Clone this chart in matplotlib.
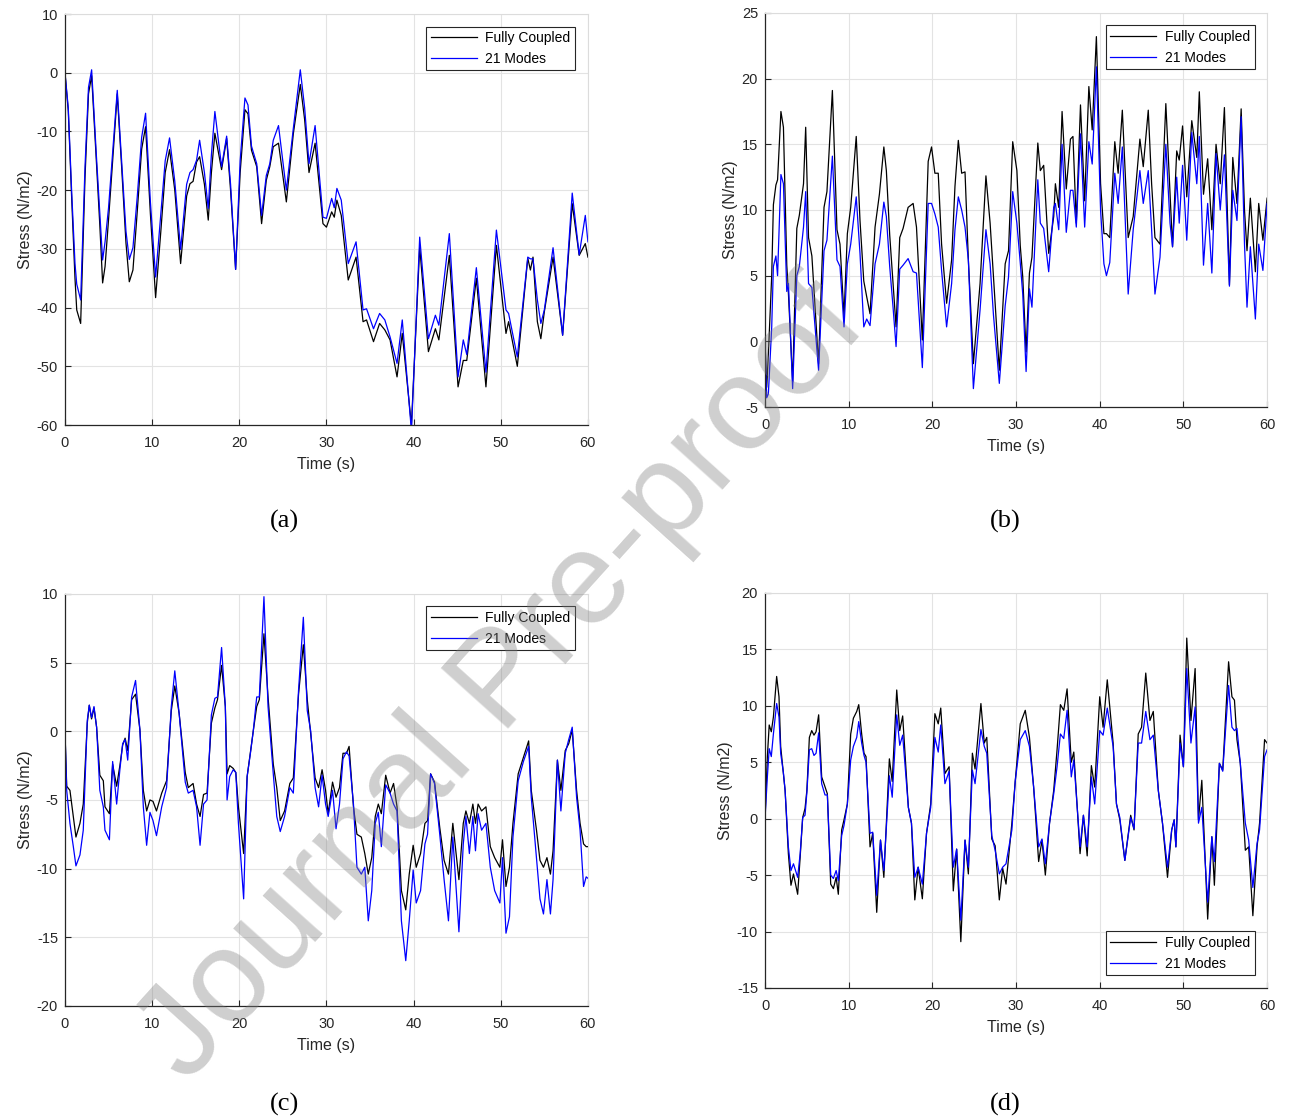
import matplotlib
matplotlib.use("Agg")
import matplotlib.pyplot as plt

plt.rcParams["font.family"] = ["Liberation Sans", "DejaVu Sans"]
plt.rcParams["axes.unicode_minus"] = False

# (a) values
t_a = [0, 0.38, 0.76, 1.15, 1.35, 1.8, 2.3, 2.7, 3.06, 3.6,
       4.0, 4.32, 4.6, 5.0, 5.4, 6.0, 6.5, 7.0, 7.38, 7.8,
       8.3, 8.8, 9.25, 9.8, 10.4, 11.0, 11.5, 12.0, 12.6, 13.27,
       13.96, 14.34, 14.7, 15.1, 15.45, 16.0, 16.44, 16.8, 17.2, 17.97,
       18.55, 19.0, 19.58, 20.1, 20.65, 21.0, 21.4, 22.0, 22.56, 23.1,
       23.5, 23.9, 24.5, 25.4, 26.2, 27.0, 27.5, 28.0, 28.7, 29.6,
       30.0, 30.6, 30.9, 31.2, 31.7, 32.5, 33.4, 34.2, 34.6, 35.4,
       36.1, 36.7, 37.3, 38.1, 38.7, 39.75, 40.7, 41.7, 42.5, 42.9,
       44.1, 45.1, 45.7, 46.1, 47.2, 48.3, 49.5, 50.6, 50.9, 51.9,
       53.1, 53.4, 53.7, 54.2, 54.6, 55.0, 56.0, 57.1, 58.2, 59.0,
       59.7, 60.0]
fc_a = [0, -6.5, -21, -35, -40.4, -42.7, -17.8, -3.6, -0.5, -15,
        -26, -35.8, -33, -25, -16.5, -3.6, -16, -29, -35.6, -33.6,
        -23.5, -13, -9.2, -24, -38.3, -27, -17, -13.1, -20, -32.5,
        -21, -18.9, -18.5, -15.2, -14.3, -19, -25.1, -17, -10.3, -16.5,
        -11.2, -20, -33.5, -17, -6.3, -7, -13.2, -16, -25.7, -18.3,
        -16, -12.6, -12, -22, -10.4, -2.0, -8, -17, -12, -25.7,
        -26.3, -23.7, -24.6, -21.7, -24.3, -35.3, -31.4, -42.4, -42.1, -45.8,
        -42.7, -43.8, -45.5, -51.8, -44.4, -60, -29.7, -47.5, -43.6, -45.5,
        -31.1, -53.5, -49, -49, -35, -53.5, -29.4, -44.4, -42.4, -50,
        -31.6, -33.6, -31.4, -42.4, -45.3, -40.7, -31.4, -44.7, -22.3, -31.1,
        -29.1, -31.4]
m21_a = [0, -6, -20, -32.5, -36, -38.7, -16, -2.5, 0.5, -14,
         -24, -31.9, -28.8, -23, -15, -3.0, -15, -27, -31.8, -29.8,
         -21, -11, -6.9, -22, -34.8, -24, -15, -11.1, -18.5, -30.1,
         -19, -17, -16.5, -14.9, -11.5, -17, -23.1, -14, -6.6, -16,
         -10.8, -19, -33.5, -15, -4.3, -5.5, -12.5, -15.5, -24.3, -17.5,
         -15.5, -11.5, -9.0, -20, -9.5, 0.5, -6, -15.5, -9, -24.6,
         -24.8, -21.4, -23, -19.7, -21.7, -32.5, -28.8, -40.4, -40.2, -43.6,
         -41, -42.1, -45, -49.5, -42.1, -61, -28, -45.3, -41.3, -43,
         -27.4, -51.8, -45.5, -48, -33.2, -51, -26.8, -40.4, -41, -48.4,
         -31.4, -31.7, -31.7, -38.7, -42.7, -40.4, -29.8, -44.7, -20.5, -31,
         -24.3, -28.8]

# (b)
t_b = [0, 0.2, 0.4, 0.8, 1.0, 1.3, 1.5, 1.9, 2.2, 2.6,
       2.8, 3.3, 3.8, 4.1, 4.6, 4.86, 5.2, 5.6, 6.4, 7.05,
       7.4, 8.05, 8.6, 8.96, 9.44, 9.84, 10.24, 10.9, 11.35, 11.8,
       12.15, 12.55, 13.15, 13.67, 14.2, 14.5, 14.9, 15.3, 15.66, 16.1,
       16.5, 17.1, 17.7, 18.1, 18.8, 19.5, 19.9, 20.3, 20.7, 21.1,
       21.7, 22.3, 22.7, 23.1, 23.5, 23.9, 24.3, 24.9, 25.7, 26.4,
       26.9, 27.3, 28.0, 28.7, 29.1, 29.6, 30.1, 30.5, 30.8, 31.2,
       31.6, 31.9, 32.6, 32.9, 33.3, 33.9, 34.5, 34.7, 35.1, 35.5,
       36.0, 36.5, 36.8, 37.2, 37.7, 38.2, 38.7, 39.1, 39.6, 40.1,
       40.5, 40.8, 41.2, 41.8, 42.2, 42.7, 43.4, 44.0, 44.8, 45.2,
       45.8, 46.2, 46.6, 47.2, 47.9, 48.4, 48.7, 49.2, 49.5, 49.9,
       50.4, 51.0, 51.6, 51.9, 52.4, 52.9, 53.4, 53.9, 54.4, 54.9,
       55.5, 55.9, 56.4, 56.9, 57.3, 57.6, 58.0, 58.6, 59.0, 59.5,
       60.0]
fc_b = [0, -3.5, -1, 5.0, 10.4, 11.9, 12.3, 17.5, 16.3, 5.8,
        3.6, -3.1, 8.6, 9.6, 12, 16.3, 7.9, 6.5, -1.7, 10.2,
        11.4, 19.1, 8.5, 7.4, 1.9, 8.2, 10.2, 15.6, 9.2, 4.6,
        3.4, 2.1, 8.7, 11.2, 14.8, 13, 8.1, 4.4, 1.1, 7.9,
        8.6, 10.2, 10.5, 8.7, 0.1, 13.7, 14.8, 12.8, 12.8, 7.4,
        2.9, 6.2, 11.8, 15.3, 12.8, 12.9, 6.2, -1.7, 4.4, 12.6,
        9, 4.9, -2.2, 5.9, 6.9, 15.2, 13, 7.3, 4.9, -0.8,
        5.2, 6.4, 15.1, 13, 13.4, 6.7, 9.5, 12, 10.2, 17.5,
        11.6, 15.4, 15.6, 9, 18, 10.7, 19.4, 16.1, 23.2, 12,
        8.2, 8.2, 7.9, 15.2, 12.8, 17.6, 7.9, 9.5, 15.4, 13.3,
        17.6, 12, 7.9, 7.4, 18.1, 11.2, 7.2, 14.5, 13.8, 16.4,
        11, 16.8, 14, 19, 11.2, 13.9, 8.5, 15, 12, 17.8,
        4.3, 14, 10.5, 17.7, 10, 6.9, 10.9, 5.3, 10.5, 7.7,
        10.9]
m21_b = [0, -4.3, -4, 1.1, 5.7, 6.5, 5.0, 12.7, 12, 3.8,
         4.4, -3.6, 5.0, 5.7, 8.7, 11.4, 4.4, 4.1, -2.2, 6.9,
         7.7, 14.1, 6.2, 5.7, 1.1, 5.9, 7.4, 11, 6.7, 1.1,
         1.7, 1.2, 5.9, 7.4, 10.6, 9.5, 5.7, 2.6, -0.4, 5.5,
         5.8, 6.3, 5.3, 5.2, -2.0, 10.5, 10.5, 9.7, 8.7, 5.4,
         1.1, 4.4, 8.5, 11, 10, 8.7, 6.2, -3.6, 2.4, 8.5,
         5.9, 2.0, -3.2, 2.7, 4.9, 11.4, 9, 6, 3.6, -2.3,
         4, 2.6, 12.3, 9, 8.6, 5.3, 10.2, 10.5, 8.5, 15,
         8.3, 11.5, 11.5, 8.7, 15.8, 8.7, 15.2, 13.5, 20.9, 10,
         5.9, 5, 6, 12.8, 10.5, 14.8, 3.6, 8.5, 13, 10.5,
         13, 8.5, 3.6, 6.4, 15, 9, 7.2, 12.5, 9, 13.4,
         7.7, 15.9, 12, 15.6, 5.8, 10.5, 5.2, 14.3, 10, 14.2,
         4.2, 11.5, 9.2, 17.1, 7.4, 2.6, 7.2, 1.7, 7.4, 5.4,
         10.5]

# (c)
t_c = [0, 0.2, 0.57, 0.96, 1.26, 1.72, 2.1, 2.56, 2.79, 3.05,
       3.33, 3.63, 4.0, 4.4, 4.59, 5.1, 5.47, 5.93, 6.3, 6.62,
       6.9, 7.2, 7.65, 8.1, 8.6, 8.99, 9.37, 9.75, 10.1, 10.5,
       11.1, 11.66, 12.2, 12.6, 13.1, 13.8, 14.15, 14.7, 15.1, 15.5,
       15.9, 16.3, 16.8, 17.2, 17.5, 17.97, 18.4, 18.6, 18.9, 19.3,
       19.6, 19.9, 20.5, 20.9, 21.3, 21.6, 22.0, 22.3, 22.83, 23.3,
       23.9, 24.3, 24.7, 25.2, 25.8, 26.2, 26.8, 27.35, 27.8, 28.2,
       28.7, 29.1, 29.5, 29.9, 30.2, 30.7, 31.1, 31.5, 31.9, 32.3,
       32.6, 33.1, 33.5, 34.0, 34.4, 34.8, 35.2, 35.6, 35.95, 36.3,
       36.8, 37.3, 37.7, 38.1, 38.6, 39.1, 39.5, 39.95, 40.3, 40.8,
       41.3, 41.6, 41.95, 42.4, 43.0, 43.5, 44.0, 44.5, 45.2, 45.7,
       46.0, 46.4, 46.8, 47.1, 47.4, 47.8, 48.3, 48.8, 49.3, 49.9,
       50.2, 50.6, 51.0, 51.4, 52.0, 52.6, 53.2, 53.5, 54.1, 54.5,
       54.9, 55.3, 55.7, 56.0, 56.5, 56.9, 57.4, 57.8, 58.2, 58.7,
       59.1, 59.5, 59.8, 60.0]
fc_c = [0, -4, -4.3, -6.2, -7.7, -6.7, -5.3, 0.6, 1.9, 0.9,
        1.7, 0.3, -3.2, -3.6, -5.5, -6, -2.4, -4, -2.5, -1.0,
        -0.5, -1.4, 2.3, 2.7, 0.1, -4.3, -5.8, -5, -5.1, -5.8,
        -4.5, -3.6, 1.5, 3.3, 1.3, -3.0, -4.1, -3.8, -5.3, -6.2,
        -4.6, -4.5, 0.6, 1.7, 2.3, 4.8, 1.8, -3.1, -2.5, -2.7,
        -3.0, -5.5, -8.9, -3.3, -1.4, 0, 1.8, 2.3, 7.1, 2.5,
        -2.4, -4.1, -6.5, -5.8, -3.8, -3.4, 2.7, 6.3, 2.3, -0.2,
        -3.4, -4.1, -2.8, -4.3, -6.0, -3.7, -4.8, -4.1, -1.6, -1.6,
        -1.1, -5.5, -7.5, -7.7, -8.9, -10.4, -9.2, -6.2, -5.3, -6.0,
        -3.2, -4.5, -3.8, -5.5, -11.6, -13.0, -10.4, -8.3, -9.9, -8.9,
        -6.7, -6.5, -3.1, -3.7, -7.0, -9.4, -10.4, -6.7, -10.8, -6.7,
        -5.8, -6.7, -5.3, -6.7, -5.3, -5.8, -5.5, -8.4, -9.2, -9.9,
        -7.9, -11.3, -9.9, -6.7, -3.1, -1.9, -0.7, -4.3, -7.2, -9.4,
        -9.9, -9.2, -10.4, -8.7, -2.1, -4.3, -1.4, -0.9, 0.1, -4.3,
        -6.7, -8.2, -8.4, -8.4]
m21_c = [0, -4.3, -6.7, -8.4, -9.8, -9.0, -7.2, 0.8, 1.9, 1.0,
         1.8, 0.3, -4.3, -5.5, -7.2, -7.9, -2.2, -5.3, -2.8, -0.9,
         -0.6, -2.1, 2.5, 3.7, 0.1, -5.5, -8.3, -5.9, -6.5, -7.6,
         -5.5, -4.1, 1.8, 4.4, 1.3, -3.7, -4.5, -4.3, -5.5, -8.3,
         -5.3, -5.0, 1.2, 2.4, 2.5, 6.1, 1.8, -5.0, -3.3, -2.8,
         -3.0, -6.7, -12.2, -3.3, -1.5, 0, 2.5, 2.5, 9.8, 1.8,
         -3.1, -6.2, -7.3, -6.2, -4.1, -4.5, 3.0, 8.3, 1.5, 0,
         -4.1, -5.5, -3.2, -5.3, -6.2, -4.3, -7.1, -5.3, -2.0, -1.5,
         -1.8, -5.3, -9.9, -10.4, -9.9, -13.8, -11.6, -6.7, -5.9, -8.4,
         -3.9, -4.5, -5.3, -5.8, -13.8, -16.7, -13.8, -10.1, -12.5, -11.6,
         -8.2, -7.5, -3.1, -3.8, -7.5, -10.8, -13.8, -7.7, -14.6, -8.2,
         -6.2, -8.9, -6.2, -8.7, -6.0, -7.2, -6.7, -9.9, -11.6, -12.5,
         -9.2, -14.7, -13.5, -7.7, -3.6, -2.2, -1.1, -4.8, -9.2, -12.2,
         -13.3, -10.8, -13.3, -10.8, -2.1, -5.8, -1.6, -0.6, 0.3, -4.8,
         -7.2, -11.3, -10.6, -10.7]

# (d)
t_d = [0, 0.28, 0.5, 0.75, 1.0, 1.39, 1.67, 1.87, 2.19, 2.4,
       2.79, 3.1, 3.4, 3.9, 4.2, 4.5, 4.78, 5.0, 5.3, 5.58,
       5.85, 6.1, 6.41, 6.77, 7.17, 7.45, 7.85, 8.17, 8.5, 8.76,
       9.16, 9.44, 9.84, 10.24, 10.56, 10.96, 11.2, 11.55, 11.83, 12.07,
       12.55, 12.87, 13.35, 13.8, 14.2, 14.86, 15.2, 15.74, 16.1, 16.45,
       17.13, 17.5, 17.9, 18.3, 18.8, 19.3, 19.8, 20.3, 20.7, 21.0,
       21.5, 22.0, 22.5, 22.9, 23.4, 23.9, 24.3, 24.78, 25.1, 25.8,
       26.2, 26.5, 27.1, 27.5, 28.0, 28.4, 28.8, 29.5, 29.9, 30.5,
       31.1, 31.6, 32.1, 32.7, 33.1, 33.5, 34.0, 34.5, 34.9, 35.3,
       35.7, 36.1, 36.6, 36.9, 37.65, 38.05, 38.5, 39.0, 39.4, 40.0,
       40.4, 40.9, 41.6, 42.0, 42.4, 43.0, 43.7, 44.1, 44.6, 45.0,
       45.5, 46.0, 46.4, 47.0, 47.5, 48.1, 48.6, 48.9, 49.1, 49.6,
       50.0, 50.4, 50.9, 51.4, 51.8, 52.2, 52.9, 53.4, 53.7, 54.3,
       54.7, 55.4, 55.8, 56.1, 56.4, 56.8, 57.4, 57.8, 58.3, 58.8,
       59.1, 59.7, 60.0]
fc_d = [0, 5.5, 8.3, 7.7, 9.0, 12.6, 10.8, 6.4, 4.1, 2.5,
        -3.1, -5.9, -4.9, -6.7, -3.4, 0.1, 0.9, 2.5, 7.2, 7.8,
        7.4, 7.7, 9.2, 3.7, 2.8, 2.2, -5.8, -6.2, -5.2, -6.7,
        -1.0, -0.1, 1.3, 7.5, 8.9, 9.5, 10.1, 7.5, 5.8, 5.5,
        -2.5, -1.3, -8.3, -1.9, -5.2, 5.3, 3.3, 11.4, 7.8, 9.1,
        1.0, -0.4, -7.2, -4.3, -7.1, -1.3, 1.3, 9.3, 8.4, 9.8,
        4.0, 4.6, -6.4, -2.7, -10.9, -1.9, -4.9, 5.8, 4.4, 10.2,
        6.7, 7.2, -1.8, -2.4, -7.2, -4.4, -5.8, -0.4, 3.3, 8.4,
        9.6, 7.2, 2.8, -3.8, -1.9, -5.0, -0.4, 2.5, 6.1, 10.1,
        9.6, 11.5, 5.0, 5.9, -3.1, 0.3, -3.3, 4.7, 2.8, 10.8,
        8.1, 12.3, 6.7, 1.3, -0.1, -3.7, 0.3, -1.0, 7.5, 8.1,
        12.9, 8.7, 9.5, 2.5, -0.4, -5.2, -1.0, -0.1, -2.5, 7.4,
        4.6, 16.0, 8.7, 13.3, -0.1, 3.4, -8.9, -1.6, -5.9, 4.9,
        4.3, 13.9, 10.8, 10.5, 7.0, 4.9, -2.8, -2.5, -8.6, -2.5,
        -0.4, 7.0, 6.7]
m21_d = [0, 3.7, 6.2, 5.5, 7.5, 10.2, 9.0, 5.8, 4.1, 2.5,
         -2.5, -4.6, -4.0, -5.2, -3.1, 0.1, 0.3, 2.3, 6.1, 6.2,
         5.6, 5.8, 7.6, 3.1, 2.1, 2.1, -5.0, -5.3, -4.6, -5.5,
         -1.5, -0.6, 1.3, 5.2, 6.4, 7.2, 8.6, 6.7, 5.6, 5.0,
         -1.3, -1.2, -6.8, -1.9, -4.6, 3.8, 1.9, 9.2, 6.5, 7.4,
         1.0, -0.4, -5.2, -4.3, -5.8, -1.3, 1.0, 7.2, 5.9, 8.3,
         3.1, 4.2, -4.3, -2.7, -9.0, -1.9, -4.3, 4.3, 3.1, 7.9,
         6.4, 5.8, -1.5, -2.8, -4.9, -4.3, -4.0, -1.0, 3.3, 7.0,
         7.8, 6.4, 2.8, -2.5, -1.8, -4.0, -0.4, 2.2, 4.6, 7.5,
         7.1, 9.6, 3.7, 5.2, -2.5, 0.3, -2.5, 3.7, 1.3, 7.8,
         7.4, 9.8, 6.4, 1.3, 0.1, -3.7, 0.1, -0.9, 6.7, 6.7,
         9.5, 7.0, 7.4, 2.5, -0.4, -4.3, -1.0, -0.1, -2.5, 6.7,
         4.6, 13.3, 6.7, 9.9, -0.4, 1.0, -7.4, -1.6, -3.8, 4.9,
         4.2, 11.8, 8.1, 7.8, 8.0, 4.9, -0.4, -1.9, -6.1, -2.2,
         -1.0, 5.5, 6.1]

x_ticks = [0, 10, 20, 30, 40, 50, 60]
labels = ["Fully Coupled", "21 Modes"]
dark = "#262626"


def draw_panel(rect, t, fc, m21, ylim, yticks, legend_loc, tag, tag_xy):
    ax = fig.add_axes(rect)
    ax.plot(t, fc, color="black", lw=0.9, label=labels[0])
    ax.plot(t, m21, color="#0000ff", lw=0.9, label=labels[1])
    ax.set_xlim(0, 60)
    ax.set_ylim(*ylim)
    ax.set_xticks(x_ticks)
    ax.set_yticks(yticks)
    ax.grid(True, color="#e3e3e3", lw=0.8)
    ax.set_axisbelow(True)
    for side in ["top", "right"]:
        ax.spines[side].set_color("#dcdcdc")
        ax.spines[side].set_linewidth(0.8)
    for side in ["left", "bottom"]:
        ax.spines[side].set_color(dark)
        ax.spines[side].set_linewidth(0.9)
    ax.tick_params(direction="in", length=4, width=0.8, colors=dark,
                   labelsize=10.5, top=False, right=False)
    ax.tick_params(axis="x", pad=8)
    ax.tick_params(axis="y", pad=5)
    ax.set_xlabel("Time (s)", fontsize=11.5, color=dark, labelpad=5)
    ax.set_ylabel("Stress (N/m2)", fontsize=11.5, color=dark, labelpad=3)
    leg = ax.legend(loc=legend_loc, fontsize=10, fancybox=False,
                    edgecolor=dark, framealpha=1, handlelength=3.3,
                    borderaxespad=0.9, labelspacing=0.45, borderpad=0.35,
                    handletextpad=0.6)
    leg.get_frame().set_linewidth(0.8)
    fig.text(tag_xy[0], tag_xy[1], tag, ha="center", va="center",
             fontsize=19, family="Liberation Serif")
    return ax


fig = plt.figure(figsize=(12.89, 11.2), dpi=100)

draw_panel([0.0504, 0.6205, 0.4057, 0.367], t_a, fc_a, m21_a, (-60, 10),
           range(-60, 11, 10), "upper right", "(a)", (0.221, 0.534))
draw_panel([0.5935, 0.6366, 0.3895, 0.3518], t_b, fc_b, m21_b, (-5, 25),
           range(-5, 26, 5), "upper right", "(b)", (0.780, 0.534))
draw_panel([0.0504, 0.1018, 0.4057, 0.3679], t_c, fc_c, m21_c, (-20, 10),
           range(-20, 11, 5), "upper right", "(c)", (0.221, 0.014))
draw_panel([0.5935, 0.1179, 0.3895, 0.3527], t_d, fc_d, m21_d, (-15, 20),
           range(-15, 21, 5), "lower right", "(d)", (0.780, 0.014))

# watermark across the page
fig.text(0.39, 0.39, "Journal Pre-proof", rotation=48, fontsize=95,
         color="gray", alpha=0.38, ha="center", va="center",
         family="Liberation Sans", zorder=10)

fig.savefig("out.png", dpi=100)
